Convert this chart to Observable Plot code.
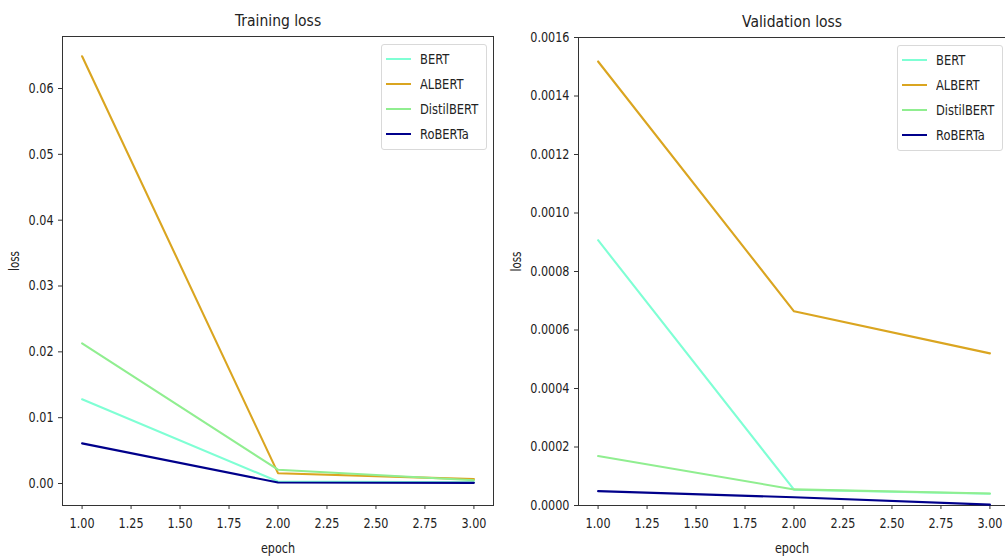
<!DOCTYPE html>
<html>
<head>
<meta charset="utf-8">
<script src="https://cdn.jsdelivr.net/npm/d3@7"></script>
<script src="https://cdn.jsdelivr.net/npm/@observablehq/plot@0.6"></script>
<style>
  html, body { margin: 0; padding: 0; background: #fff; }
  #fig { position: relative; width: 1005px; height: 559px; overflow: hidden; background: #fff; font-family: "DejaVu Sans", sans-serif; }
  .panel { position: absolute; top: 0; }
  .legend { position: absolute; width: 104px; height: 104px; border: 1px solid #d9d9d9; border-radius: 3px; background: rgba(255,255,255,0.85); }
  .legend .sw { position: absolute; left: 4px; width: 25px; height: 2px; }
  .legend .lb { position: absolute; left: 38px; font-size: 14px; line-height: 16px; color: #222; white-space: nowrap; transform: scaleX(0.82); transform-origin: left center; }
</style>
</head>
<body>
<div id="fig"></div>
<script>
// ---- data ----
const epochs = [1, 2, 3];
const models = ["BERT", "ALBERT", "DistilBERT", "RoBERTa"];
const colors = ["#7fffd4", "#daa520", "#90ee90", "#00008b"];

const trainBERT = [0.0128, 0.0003, 0.0002];
const trainALBERT = [0.0649, 0.00157, 0.00066];
const trainDistilBERT = [0.0213, 0.0021, 0.0005];
const trainRoBERTa = [0.0061, 0.00015, 0.0001];

const valBERT = [0.000907, 0.000054, 0.00004];
const valALBERT = [0.001518, 0.000664, 0.00052];
const valDistilBERT = [0.000169, 0.000055, 0.000041];
const valRoBERTa = [0.000049, 0.000028, 0.000003];

const xTicks = [1, 1.25, 1.5, 1.75, 2, 2.25, 2.5, 2.75, 3];
const trainYTicks = [0, 0.01, 0.02, 0.03, 0.04, 0.05, 0.06];
const valYTicks = [0, 0.0002, 0.0004, 0.0006, 0.0008, 0.001, 0.0012, 0.0014, 0.0016];

const titles = ["Training loss", "Validation loss"];
const xLabel = "epoch";
const yLabel = "loss";

// ---- build tables ----
function table(series) {
  return models.flatMap((m, i) => epochs.map((e, j) => ({model: m, epoch: e, loss: series[i][j]})));
}
const trainData = table([trainBERT, trainALBERT, trainDistilBERT, trainRoBERTa]);
const valData = table([valBERT, valALBERT, valDistilBERT, valRoBERTa]);

const textColor = "#222";
const spine = "#333";

function panel({data, title, xDomain, yDomain, yTicks, yFmt, marginLeft, marginRight, marginTop, fullFrame, yLabelDx}) {
  const marks = [];
  if (fullFrame) {
    marks.push(Plot.frame({stroke: spine, strokeWidth: 1}));
  } else {
    marks.push(Plot.ruleX([xDomain[0]], {stroke: spine, strokeWidth: 1}));
    marks.push(Plot.ruleY(yDomain, {stroke: spine, strokeWidth: 1}));
  }
  marks.push(
    Plot.axisX({ticks: xTicks, tickFormat: d3.format(".2f"), tickSize: 4, tickPadding: 9, label: null, fontSize: 14, stroke: spine}),
    Plot.axisY({ticks: yTicks, tickFormat: d3.format(yFmt), tickSize: 4, tickPadding: 5, label: null, fontSize: 14, stroke: spine}),
    Plot.line(data, {x: "epoch", y: "loss", stroke: "model", z: "model", strokeWidth: 2.1}),
    Plot.text([title], {frameAnchor: "top", lineAnchor: "middle", dy: -16, fontSize: 16, fill: textColor}),
    Plot.text([xLabel], {frameAnchor: "bottom", lineAnchor: "middle", dy: 43, fontSize: 14, fill: textColor}),
    Plot.text([yLabel], {frameAnchor: "left", lineAnchor: "middle", dx: yLabelDx, rotate: -90, fontSize: 14, fill: textColor})
  );
  return Plot.plot({
    width: 500, height: 559,
    marginLeft, marginRight, marginTop, marginBottom: 54,
    x: {domain: xDomain},
    y: {domain: yDomain},
    color: {domain: models, range: colors},
    style: {fontFamily: "DejaVu Sans, sans-serif", fontSize: "14px", color: textColor, background: "transparent", overflow: "visible"},
    marks
  });
}

function legend(left, top) {
  const d = document.createElement("div");
  d.className = "legend";
  d.style.left = left + "px";
  d.style.top = top + "px";
  models.forEach((m, i) => {
    const cy = 14 + i * 25;
    const sw = document.createElement("div");
    sw.className = "sw";
    sw.style.top = (cy - 1) + "px";
    sw.style.background = colors[i];
    const lb = document.createElement("div");
    lb.className = "lb";
    lb.style.top = (cy - 8) + "px";
    lb.textContent = m;
    d.appendChild(sw);
    d.appendChild(lb);
  });
  return d;
}

function squeeze(root) {
  root.querySelectorAll("text").forEach(t => {
    const s = t.textContent;
    const f = titles.includes(s) ? 0.87 : s === yLabel ? 0.74 : 0.8;
    const L = t.getComputedTextLength();
    if (L > 0) {
      t.setAttribute("textLength", (L * f).toFixed(2));
      t.setAttribute("lengthAdjust", "spacingAndGlyphs");
    }
  });
}

const fig = document.getElementById("fig");

const left = panel({
  data: trainData, title: titles[0],
  xDomain: [0.9, 3.1], yDomain: [-0.00334, 0.0679],
  yTicks: trainYTicks, yFmt: ".2f",
  marginLeft: 62, marginRight: 7, marginTop: 36, fullFrame: true, yLabelDx: -48
});
left.classList.add("panel");
left.style.left = "0px";
fig.appendChild(left);

const right = panel({
  data: valData, title: titles[1],
  xDomain: [0.9, 3.0795], yDomain: [0, 0.0016],
  yTicks: valYTicks, yFmt: ".4f",
  marginLeft: 73, marginRight: 0, marginTop: 37, fullFrame: false, yLabelDx: -62
});
right.classList.add("panel");
right.style.left = "505px";
fig.appendChild(right);

fig.appendChild(legend(381, 44));
fig.appendChild(legend(897, 45));

squeeze(left);
squeeze(right);
</script>
</body>
</html>
